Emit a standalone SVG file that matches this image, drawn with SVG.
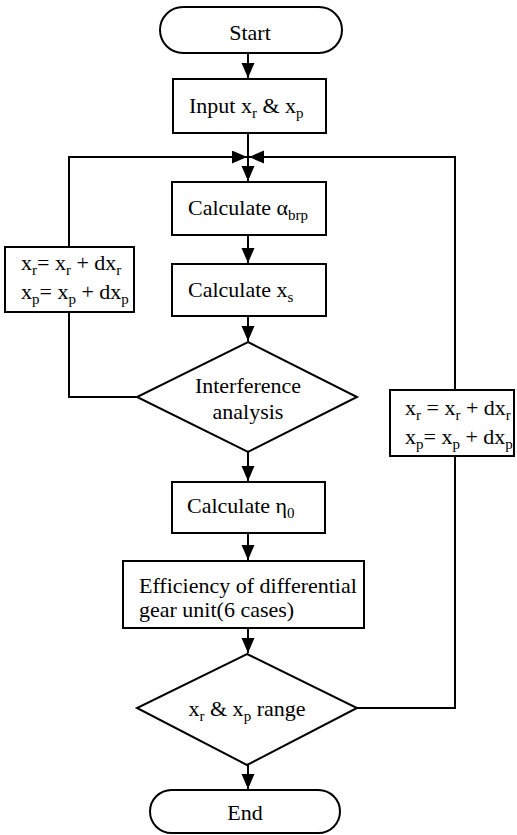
<svg xmlns="http://www.w3.org/2000/svg" width="517" height="835" viewBox="0 0 517 835">
<style>
.s{fill:#fff;stroke:#000;stroke-width:2}
.t{font-family:'Liberation Serif','Times New Roman',serif;font-size:22px;fill:#000}
.m{text-anchor:middle}
.sub{font-size:15px}
.c{fill:none;stroke:#000;stroke-width:2}
</style>
<defs>
<marker id="ah" markerUnits="userSpaceOnUse" markerWidth="16" markerHeight="14" refX="15" refY="6.5" orient="auto">
<path d="M0,0 L15,6.5 L0,13 z" fill="#000"/>
</marker>
</defs>
<rect width="517" height="835" fill="#fff"/>
<g id="connectors">
<path class="c" d="M248,53 V78" marker-end="url(#ah)"/>
<path class="c" d="M248,133 V181" marker-end="url(#ah)"/>
<path class="c" d="M137,397 H69 V312"/>
<path class="c" d="M69,247 V157 H247" marker-end="url(#ah)"/>
<path class="c" d="M357,708 H455 V456"/>
<path class="c" d="M455,390 V157 H249" marker-end="url(#ah)"/>
<path class="c" d="M248,235 V263" marker-end="url(#ah)"/>
<path class="c" d="M248,316 V341" marker-end="url(#ah)"/>
<path class="c" d="M248,452 V481" marker-end="url(#ah)"/>
<path class="c" d="M248,533 V560" marker-end="url(#ah)"/>
<path class="c" d="M248,628 V653" marker-end="url(#ah)"/>
<path class="c" d="M248,765 V789" marker-end="url(#ah)"/>
</g>
<g id="start">
<rect class="s" x="160" y="7" width="182" height="46" rx="23" ry="23"/>
<text class="t m" x="250" y="40">Start</text>
</g>
<g id="input">
<rect class="s" x="173" y="79" width="153" height="54"/>
<text class="t" x="189" y="113">Input x<tspan class="sub" dy="5">r</tspan><tspan dy="-5"> &amp;  x</tspan><tspan class="sub" dy="5">p</tspan></text>
</g>
<g id="calc-alpha">
<rect class="s" x="172" y="182" width="154" height="53"/>
<text class="t" x="188" y="215">Calculate α<tspan class="sub" dy="5">brp</tspan></text>
</g>
<g id="calc-xs">
<rect class="s" x="172" y="264" width="154" height="52"/>
<text class="t" x="188" y="297">Calculate x<tspan class="sub" dy="5">s</tspan></text>
</g>
<g id="interference">
<polygon class="s" points="248,342 357,397 248,452 137,397"/>
<text class="t m" x="248" y="393">Interference</text>
<text class="t m" x="248" y="419">analysis</text>
</g>
<g id="update-left">
<rect class="s" x="5" y="247" width="129" height="65"/>
<text class="t" x="21" y="270">x<tspan class="sub" dy="5">r</tspan><tspan dy="-5">= x</tspan><tspan class="sub" dy="5">r</tspan><tspan dy="-5"> + dx</tspan><tspan class="sub" dy="5">r</tspan></text>
<text class="t" x="21" y="299">x<tspan class="sub" dy="5">p</tspan><tspan dy="-5">= x</tspan><tspan class="sub" dy="5">p</tspan><tspan dy="-5"> + dx</tspan><tspan class="sub" dy="5">p</tspan></text>
</g>
<g id="calc-eta">
<rect class="s" x="172" y="482" width="153" height="51"/>
<text class="t" x="187" y="513">Calculate η<tspan class="sub" dy="5">0</tspan></text>
</g>
<g id="efficiency">
<rect class="s" x="123" y="561" width="241" height="67"/>
<text class="t" x="139" y="593">Efficiency of differential</text>
<text class="t" x="139" y="617">gear unit(6 cases)</text>
</g>
<g id="range">
<polygon class="s" points="247,654 357,708 247,765 137,708"/>
<text class="t m" x="247" y="716">x<tspan class="sub" dy="5">r</tspan><tspan dy="-5"> &amp; x</tspan><tspan class="sub" dy="5">p</tspan><tspan dy="-5"> range</tspan></text>
</g>
<g id="update-right">
<rect class="s" x="390" y="390" width="124" height="66"/>
<text class="t" x="405" y="415">x<tspan class="sub" dy="5">r</tspan><tspan dy="-5"> = x</tspan><tspan class="sub" dy="5">r</tspan><tspan dy="-5"> + dx</tspan><tspan class="sub" dy="5">r</tspan></text>
<text class="t" x="405" y="444">x<tspan class="sub" dy="5">p</tspan><tspan dy="-5">= x</tspan><tspan class="sub" dy="5">p</tspan><tspan dy="-5"> + dx</tspan><tspan class="sub" dy="5">p</tspan></text>
</g>
<g id="end">
<rect class="s" x="150" y="790" width="190" height="43" rx="21.5" ry="21.5"/>
<text class="t m" x="245" y="820">End</text>
</g>
</svg>
